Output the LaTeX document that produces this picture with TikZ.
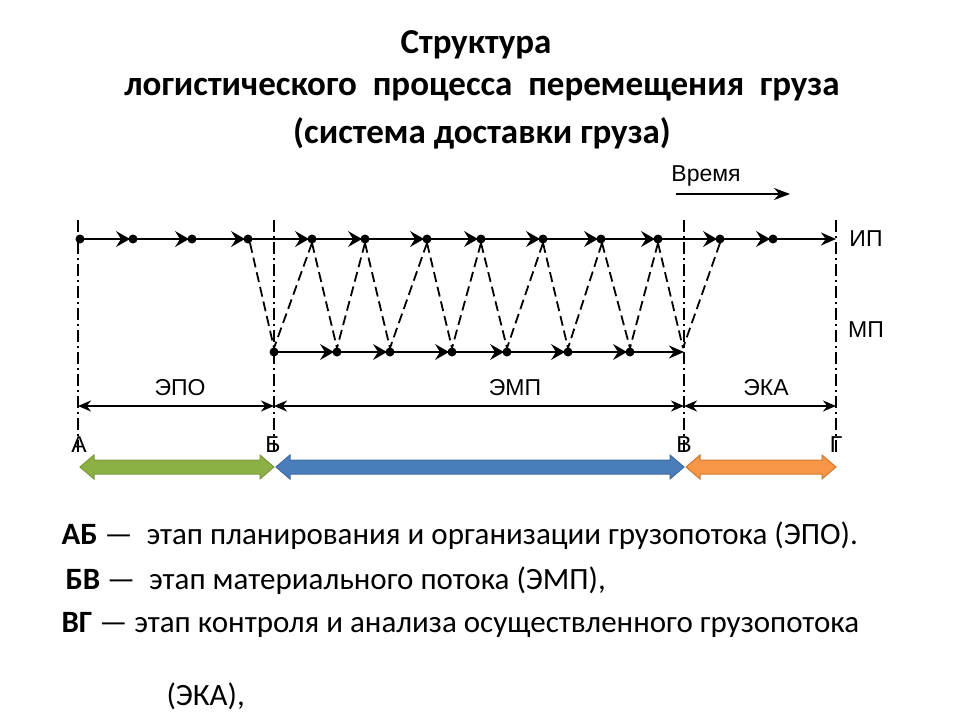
\documentclass[tikz,border=0pt]{standalone}
\usepackage{fontspec}
\setmainfont{Carlito}
\newfontfamily\arialf{Liberation Sans}
\usetikzlibrary{arrows.meta}
\definecolor{cg}{HTML}{8DB045}\definecolor{cb}{HTML}{4A7EBB}\definecolor{co}{HTML}{F79646}
\definecolor{dg}{HTML}{7A9A3A}\definecolor{db}{HTML}{3E6A9E}\definecolor{do}{HTML}{D07A30}
\begin{document}
\begin{tikzpicture}[x=1pt,y=-1pt,
  flow/.style={line width=2.4pt},
  vdash/.style={line width=1.5pt,dash pattern=on 12pt off 4pt on 2pt off 4pt},
  zig/.style={line width=1.8pt,dash pattern=on 10pt off 5pt},
  dim/.style={line width=2pt,{Stealth[length=13pt,width=11pt]}-{Stealth[length=13pt,width=11pt]}},
  lbl/.style={font=\arialf\fontsize{23}{26}\selectfont},
  ttl/.style={font=\bfseries\fontsize{35}{40}\selectfont},
  txt/.style={font=\fontsize{31}{34}\selectfont,anchor=base west}]
\useasboundingbox (0,0) rectangle (960,720);
\newcommand{\mk}[2]{\fill (#1-14,#2-8) -- (#1,#2) -- (#1-14,#2+8) -- (#1-9,#2) -- cycle; \fill (#1+3,#2) circle (4.5pt);}
% title
\node[ttl] (t1) at (476,45) {Структура};
\node[ttl] (t2) at (482,90) {логистического\ \ процесса\ \ перемещения\ \ груза};
\node[ttl] (t3) at (482,133) {(система доставки груза)};
% time
\node[lbl] (vr) at (706,176) {Время};
\coordinate (v1) at (676,194); \coordinate (v2) at (790,194);
\draw[line width=2pt,-{Stealth[length=16pt,width=12pt]}] (v1) -- (v2);
% verticals
\foreach \x in {78,274,684,836} \draw[vdash] (\x,220) -- (\x,455);
% top line
\coordinate (ta) at (80,239); \coordinate (tb) at (836,239);
\draw[flow,-{Stealth[length=15pt,width=13pt]}] (ta) -- (tb);
\fill (ta) circle (4.5pt);
\foreach \x in {130,189,245,309,362,424,478,540,598,655,717,770} {\mk{\x}{239}}
% bottom line
\coordinate (ba) at (274,352); \coordinate (bb) at (684,352);
\draw[flow,-{Stealth[length=15pt,width=13pt]}] (ba) -- (bb);
\fill (ba) circle (4.5pt);
\foreach \x in {334,387,449,504,565,627} {\mk{\x}{352}}
% zigzag
\foreach \a/\b in {250/274,312/274,312/337,365/337,365/390,427/390,427/452,481/452,481/507,543/507,543/568,602/568,602/630,658/630,658/683,720/683}
  \draw[zig] (\a,243) -- (\b,348);
\node[lbl] (ip) at (866,239) {ИП};
\node[lbl] (mp) at (866,330) {МП};
% dimensions
\coordinate (A) at (78,406); \coordinate (B) at (274,406); \coordinate (V) at (684,406); \coordinate (G) at (836,406);
\draw[dim] (A) -- (B); \draw[dim] (B) -- (V); \draw[dim] (V) -- (G);
\node[lbl] at (180,388) {ЭПО};
\node[lbl] at (515,388) {ЭМП};
\node[lbl] at (766,388) {ЭКА};
\node[lbl] at (79,445) {А};
\node[lbl] at (273,445) {Б};
\node[lbl] at (684,445) {В};
\node[lbl] at (836,445) {Г};
% fat arrows
\foreach \l/\r/\c/\d in {80/274/cg/dg,276/684/cb/db,686/836/co/do} {
  \filldraw[fill=\c,draw=\d,line width=1pt] (\l,467) -- (\l+14,455) -- (\l+14,460) -- (\r-14,460) -- (\r-14,455) -- (\r,467) -- (\r-14,479) -- (\r-14,474) -- (\l+14,474) -- (\l+14,479) -- cycle;}
% text
\node[txt] at (58,544) {\textbf{АБ} —\ \ этап планирования и организации грузопотока (ЭПО).};
\node[txt] at (62,589) {\textbf{БВ} —\ \ этап материального потока (ЭМП),};
\node[txt] at (58,632) {\textbf{ВГ} — этап контроля и анализа осуществленного грузопотока};
\node[txt] at (163,705) {(ЭКА),};
\end{tikzpicture}
\end{document}
